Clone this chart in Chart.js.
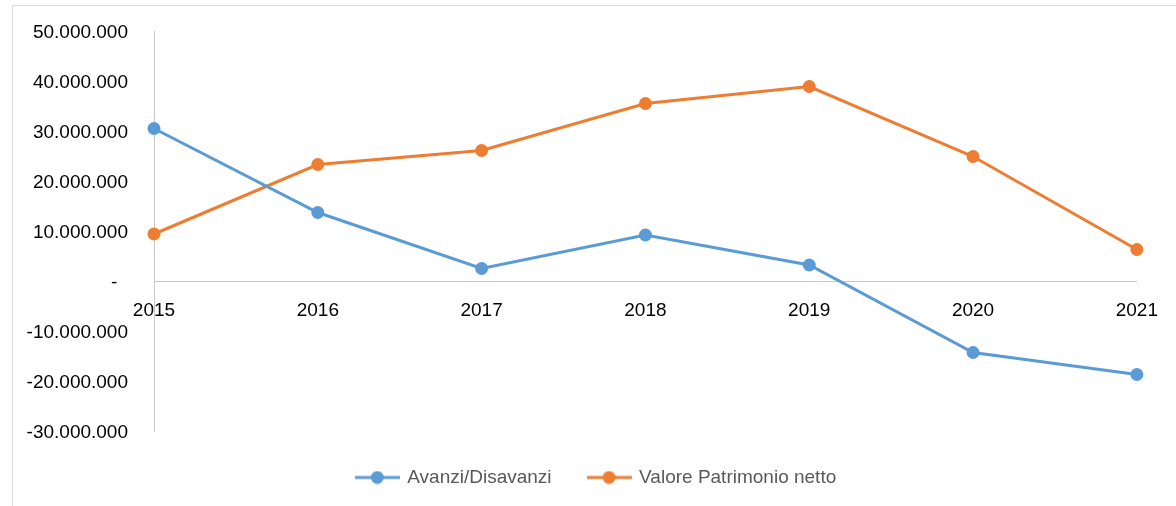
<!DOCTYPE html>
<html>
<head>
<meta charset="utf-8">
<script src="https://cdn.jsdelivr.net/npm/chart.js@4.4.1/dist/chart.umd.min.js"></script>
<style>
    html, body { margin: 0; padding: 0; background: #fff; overflow: hidden; }
    #wrap { position: relative; width: 1176px; height: 506px; }
    #cornice { position: absolute; left: 12px; top: 5px; width: 1200px; height: 540px; border: 1px solid #D9D9D9; box-sizing: border-box; }
    #myLineChart { position: absolute; left: 0; top: 0; }
</style>
</head>
<body>
<div id="wrap">
    <div id="cornice"></div>
    <canvas id="myLineChart" width="1176" height="506"></canvas>
</div>
<script>
var anni = ['2015', '2016', '2017', '2018', '2019', '2020', '2021'];
var avanziDisavanzi = [30500000, 13700000, 2500000, 9200000, 3200000, -14300000, -18700000];
var patrimonioNetto = [9400000, 23300000, 26100000, 35500000, 38900000, 24900000, 6300000];
var nomiSerie = ['Avanzi/Disavanzi', 'Valore Patrimonio netto'];
var coloriSerie = ['#5B9BD5', '#ED7D31'];
var asseMin = -30000000;
var asseMax = 50000000;
var asseStep = 10000000;

var _myChart = null;
var fontTesto = { family: '"Liberation Sans", Arial, sans-serif', size: 19 };

// numero con i punti delle migliaia, lo zero come trattino (formato contabilità)
function formatta(v) {
    if (v === 0) return '-  ';
    var s = Math.abs(v).toFixed(0).replace(/\B(?=(\d{3})+(?!\d))/g, '.');
    return (v < 0 ? '-' : '') + s;
}

// piccola immagine linea + pallino per la legenda
function simboloLegenda(colore) {
    var c = document.createElement('canvas');
    c.width = 45;
    c.height = 14;
    var g = c.getContext('2d');
    g.strokeStyle = colore;
    g.lineWidth = 3;
    g.beginPath();
    g.moveTo(0, 7);
    g.lineTo(45, 7);
    g.stroke();
    g.fillStyle = colore;
    g.beginPath();
    g.arc(22.5, 7, 6.5, 0, Math.PI * 2);
    g.fill();
    return c;
}

// la legenda è centrata un po' più a destra che nel grafico di Chart.js
var spostaLegenda = {
    id: 'spostaLegenda',
    afterLayout: function (chart) {
        chart.legend.left += 25;
        chart.legend.right += 25;
    }
};

function buildLineChart() {
    var serie = [avanziDisavanzi, patrimonioNetto];
    var datasets = serie.map(function (valori, i) {
        return {
            label: nomiSerie[i],
            data: valori,
            borderColor: coloriSerie[i],
            backgroundColor: coloriSerie[i],
            borderWidth: 3,
            pointRadius: 6.5,
            pointBorderWidth: 0,
            pointBackgroundColor: coloriSerie[i],
            pointBorderColor: coloriSerie[i],
            tension: 0,
            clip: false
        };
    });

    var ctx = document.getElementById('myLineChart').getContext('2d');
    _myChart = new Chart(ctx, {
        type: 'line',
        data: { labels: anni, datasets: datasets },
        plugins: [spostaLegenda],
        options: {
            responsive: false,
            animation: false,
            layout: { padding: { left: 0, right: 33, top: 31, bottom: 9 } },
            scales: {
                x: {
                    type: 'category',
                    position: { y: 0 },
                    offset: false,
                    grid: { display: false, drawTicks: false },
                    border: { display: true, color: '#C8C8C8', width: 1 },
                    afterFit: function (scale) { scale.paddingTop = 0; scale.paddingBottom = 0; },
                    ticks: {
                        color: '#000',
                        padding: 18,
                        maxRotation: 0,
                        font: fontTesto
                    }
                },
                y: {
                    min: asseMin,
                    max: asseMax,
                    grid: { display: false, drawTicks: false },
                    border: { display: true, color: '#C8C8C8', width: 1 },
                    afterFit: function (scale) { scale.width = 154; scale.paddingTop = 0; scale.paddingBottom = 0; },
                    ticks: {
                        stepSize: asseStep,
                        color: '#000',
                        padding: 26,
                        labelOffset: 2,
                        font: fontTesto,
                        callback: function (v) { return formatta(v); }
                    }
                }
            },
            plugins: {
                tooltip: { enabled: false },
                legend: {
                    position: 'bottom',
                    labels: {
                        color: '#595959',
                        padding: 37,
                        boxHeight: 14,
                        usePointStyle: true,
                        pointStyleWidth: 41,
                        font: fontTesto,
                        generateLabels: function (chart) {
                            return chart.data.datasets.map(function (ds, i) {
                                return {
                                    text: ds.label,
                                    pointStyle: simboloLegenda(coloriSerie[i]),
                                    fontColor: '#595959',
                                    lineWidth: 0,
                                    strokeStyle: 'transparent',
                                    fillStyle: 'transparent',
                                    datasetIndex: i
                                };
                            });
                        }
                    }
                }
            }
        }
    });
}

buildLineChart();
</script>
</body>
</html>
